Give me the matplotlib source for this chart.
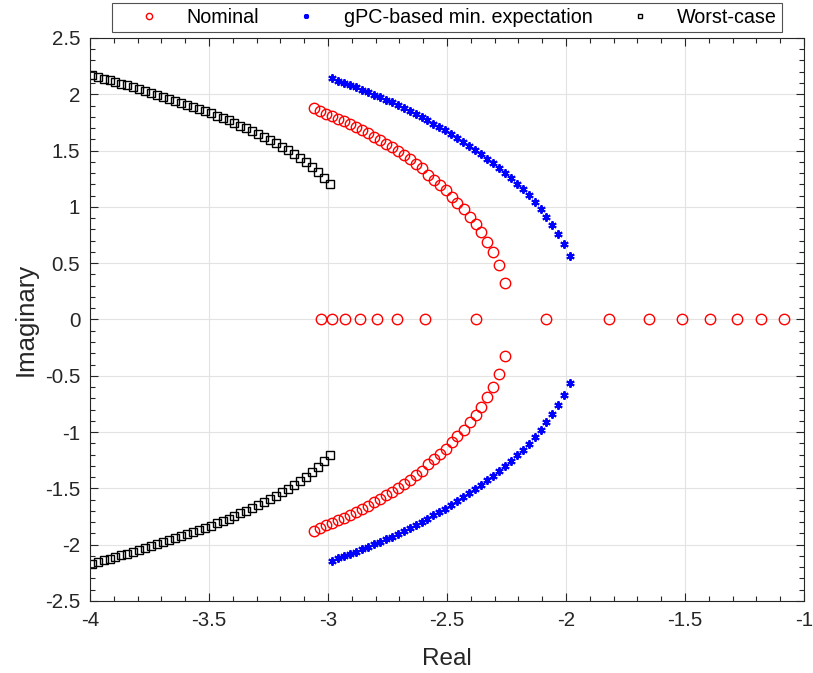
import matplotlib
matplotlib.use("Agg")
import matplotlib.pyplot as plt
from matplotlib.ticker import MultipleLocator

plt.rcParams['font.family'] = ['Liberation Sans', 'DejaVu Sans']

# nominal closed-loop poles: complex branch (upper half) and real-axis poles
nom_re = [-3.058, -3.033, -3.008, -2.983, -2.958, -2.932, -2.907, -2.882, -2.857,
          -2.832, -2.807, -2.782, -2.757, -2.732, -2.707, -2.681, -2.656, -2.631,
          -2.606, -2.581, -2.556, -2.531, -2.506, -2.481, -2.456, -2.430, -2.405,
          -2.380, -2.355, -2.330, -2.305, -2.280, -2.255]
nom_im = [1.875, 1.849, 1.828, 1.807, 1.784, 1.760, 1.736, 1.710, 1.683, 1.653,
          1.624, 1.594, 1.562, 1.529, 1.494, 1.458, 1.422, 1.381, 1.343, 1.283,
          1.239, 1.194, 1.147, 1.091, 1.032, 0.978, 0.913, 0.848, 0.777, 0.691,
          0.596, 0.484, 0.327]
nom_real_axis = [-3.029, -2.982, -2.929, -2.867, -2.795, -2.710, -2.594, -2.378,
                 -2.083, -1.818, -1.653, -1.514, -1.394, -1.283, -1.181, -1.084]

# gPC-based min. expectation (upper half)
gpc_re = [-2.982, -2.957, -2.932, -2.907, -2.882, -2.857, -2.832, -2.807, -2.782,
          -2.757, -2.732, -2.707, -2.682, -2.657, -2.632, -2.607, -2.582, -2.557,
          -2.532, -2.507, -2.482, -2.457, -2.432, -2.407, -2.382, -2.357, -2.332,
          -2.307, -2.282, -2.257, -2.232, -2.207, -2.182, -2.157, -2.132, -2.107,
          -2.082, -2.057, -2.032, -2.007, -1.982]
gpc_im = [2.145, 2.121, 2.103, 2.083, 2.062, 2.041, 2.017, 1.997, 1.973, 1.952,
          1.929, 1.905, 1.878, 1.852, 1.825, 1.795, 1.769, 1.739, 1.710, 1.680,
          1.644, 1.612, 1.576, 1.541, 1.505, 1.467, 1.428, 1.387, 1.345, 1.301,
          1.257, 1.206, 1.156, 1.103, 1.044, 0.981, 0.913, 0.842, 0.762, 0.671,
          0.567]

# worst-case (upper half)
wc_re = [-3.993, -3.968, -3.943, -3.918, -3.893, -3.868, -3.843, -3.818, -3.793,
         -3.768, -3.743, -3.718, -3.693, -3.668, -3.643, -3.618, -3.593, -3.568,
         -3.543, -3.518, -3.493, -3.468, -3.443, -3.418, -3.393, -3.368, -3.343,
         -3.318, -3.293, -3.268, -3.243, -3.218, -3.193, -3.168, -3.143, -3.118,
         -3.093, -3.068, -3.043, -3.018, -2.993]
wc_im = [2.171, 2.154, 2.139, 2.124, 2.109, 2.094, 2.080, 2.065, 2.047, 2.032,
         2.015, 1.997, 1.979, 1.961, 1.943, 1.926, 1.908, 1.890, 1.872, 1.852,
         1.831, 1.810, 1.790, 1.769, 1.745, 1.721, 1.698, 1.674, 1.647, 1.621,
         1.594, 1.565, 1.535, 1.502, 1.470, 1.434, 1.396, 1.354, 1.307, 1.257,
         1.203]

# poles come in conjugate pairs
x_nom = nom_re + nom_re + nom_real_axis
y_nom = nom_im + [-v for v in nom_im] + [0.0] * len(nom_real_axis)
x_gpc = gpc_re + gpc_re
y_gpc = gpc_im + [-v for v in gpc_im]
x_wc = wc_re + wc_re
y_wc = wc_im + [-v for v in wc_im]

fig = plt.figure(figsize=(8.13, 6.73), dpi=100)
ax = fig.add_axes([0.1107, 0.107, 0.8782, 0.8366])

ax.plot(x_nom, y_nom, 'o', color='red', mfc='none', ms=7.5, mew=1.0, label='Nominal')
ax.plot(x_gpc, y_gpc, ls='none', marker=(6, 2, 0), color='blue', ms=6, mew=1.4,
        label='gPC-based min. expectation')
ax.plot(x_wc, y_wc, 's', color='black', mfc='none', ms=5.5, mew=1.0, label='Worst-case')

ax.set_xlim(-4, -1)
ax.set_ylim(-2.5, 2.5)
ax.xaxis.set_major_locator(MultipleLocator(0.5))
ax.yaxis.set_major_locator(MultipleLocator(0.5))
ax.xaxis.set_minor_locator(MultipleLocator(0.1))
ax.yaxis.set_minor_locator(MultipleLocator(0.1))
ax.xaxis.set_major_formatter(plt.FuncFormatter(lambda v, p: f'{v:g}'))
ax.yaxis.set_major_formatter(plt.FuncFormatter(lambda v, p: f'{v:g}'))

ax.grid(True, which='major', color='#e3e3e3', lw=0.8)
ax.set_axisbelow(True)
ax.tick_params(which='both', direction='in', top=True, right=True, colors='#262626',
               labelsize=14.8, width=0.8)
ax.tick_params(which='major', length=6, pad=7)
ax.tick_params(which='minor', length=3.5)
for s in ax.spines.values():
    s.set_color('#262626')
    s.set_linewidth(0.8)

ax.set_xlabel('Real', fontsize=17.5, color='#262626', labelpad=13)
ax.set_ylabel('Imaginary', fontsize=18.5, color='#262626', labelpad=5)

leg = ax.legend(loc='lower center', bbox_to_anchor=(0.5, 1.0), ncol=3, fontsize=14.2,
                frameon=True, fancybox=False, edgecolor='#262626', markerscale=0.6,
                handlelength=3.2, handletextpad=0.3, columnspacing=0.8,
                borderpad=0.25, borderaxespad=0.3)
leg.get_frame().set_linewidth(0.8)

fig.savefig('out.png', dpi=100)
